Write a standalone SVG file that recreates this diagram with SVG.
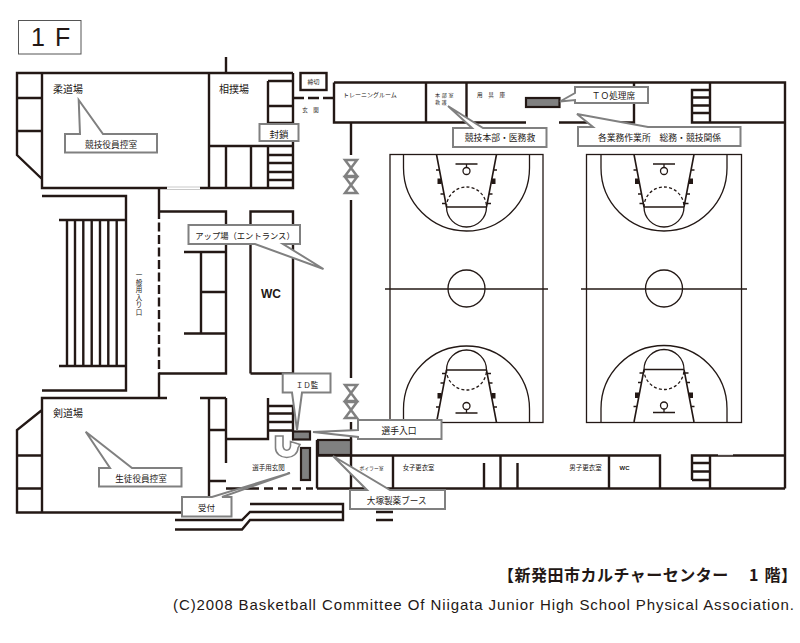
<svg xmlns="http://www.w3.org/2000/svg" xmlns:xlink="http://www.w3.org/1999/xlink" width="800" height="643" viewBox="0 0 800 643">
<style>
text{font-family:"Noto Sans CJK JP","Liberation Sans",sans-serif;fill:#231815}
.l{font-family:"Liberation Sans",sans-serif}
.w{fill:none;stroke:#231815;stroke-width:2.4}
.c{fill:none;stroke:#231815;stroke-width:1.3}
.b{fill:#fff;stroke:#808080;stroke-width:2}
.g{fill:#808080;stroke:#231815;stroke-width:2.2}
.m{text-anchor:middle}
</style>
<defs>
<g id="end">
<path class="c" d="M-63 0V13.5A63 63 0 0 0 63 13.5V0"/>
<path fill="none" stroke="#231815" stroke-width="1.6" d="M-30 0L-20 52.5M30 0L20 52.5"/>
<path class="c" d="M-20 52.5H20M-20 52.5A20 20 0 0 0 20 52.5"/>
<path class="c" stroke-dasharray="3 2.2" d="M-20 52.5A20 20 0 0 1 20 52.5"/>
<path class="c" d="M-11 9.5H11M0 9.5V13"/>
<circle class="c" cx="0" cy="16.5" r="3.5"/>
<path class="c" d="M-27 15.5H-30.500M27 15.5H30.500M-22.500 39.500H-26M22.500 39.500H26M-20.700 49H-24.500M20.700 49H24.500"/>
<rect x="-29" y="24" width="4" height="5.500" fill="#231815"/>
<rect x="25" y="24" width="4" height="5.500" fill="#231815"/>
</g>
<g id="hourglass">
<path fill="none" stroke="#808080" stroke-width="2.500" d="M-6 0H6L-6 16H6ZM-6 17H6L-6 33H6Z"/>
</g>
</defs>
<rect width="800" height="643" fill="#fff"/>

<g id="title"><rect x="18.500" y="20.500" width="62.500" height="33.500" fill="#fff" stroke="#555" stroke-width="1"/>
<text x="31" y="46" font-size="25" class="l">1</text><text x="55" y="46" font-size="25" class="l">F</text></g>

<g id="walls">
<path class="w" d="M226 57V73M293 73H17V155L42 179M42 73V188H167M200 188H293V73M17 98H42M17 131H42M209 73V188M209 146H293M226 146V188M251 146V188M268 146V188M268 155H293M268 163H293M268 172H293M268 180H293M268 81H293M268 106H293M268 81V123H293"/>
<path stroke="#bbb" stroke-width=".8" fill="none" d="M167 187H200M167 189.500H200"/>
<rect x="300.500" y="73" width="26" height="17" class="w"/>
<path class="w" stroke-dasharray="11 4" d="M293 98H334"/>
<path class="w" d="M334 82.500H785V488.500M334 82.500V122.500H526M559 122.500H634V82.500M426 82.500V122.500M466.500 82.500V122.500M785 122.500H692V90H710M710 82.500V122.500M692 97.500H710M692 105.500H710M692 113H710"/>
<path class="w" d="M351 122.500V155M351 200V378M351 422V488"/>
<path class="w" d="M159 188V210M159 375V398M42 196H126V390.500H42M59 220H126M59 366H126M67 220V366M75 220V366M83.300 220V366M91.700 220V366M100 220V366M108.300 220V366M116.700 220V366"/>
<path class="w" stroke-dasharray="9 3.500" d="M159 210V375"/>
<path class="w" d="M159 211.500H226V373.500H159M184 252H226M184 333.500H226M201 252V333.500M201 292H226M250.500 373.500V211.500H293V373.500H250.500"/>
<path class="w" d="M167 398H42V512.500H182M200 398H226M42 410L17 430V512.500H42M17 455.500H42M17 488.500H42M209 398V512.500M226 398V463M209 430H226M209 481H226M226 439H268V398M268 406H293M268 413.500H293M268 422H293M268 430.500H293M293 406V432"/>
<path class="w" d="M226 488.500H250M317 488.500H785M317 440V488.500M317 455.500H660V488.500M393 455.500V488.500M484 463V488.500M500.500 455.500V488.500M517.500 463V488.500M609 455.500V488.500M692 480V455.500H785M710 455.500V488.500M692 463H710M692 471.500H710M692 480H710"/>
<path class="w" stroke-dasharray="9 5" d="M250 488.500H313"/>
<path class="w" d="M250 504H343V520H250L242 529.500H175M343 512H250L242 520H175M376 512H393M376 520H393"/>
<path stroke="#fff" stroke-width="1" d="M718 454.700H733"/>
</g>

<g id="gates">
<use xlink:href="#hourglass" x="351" y="160"/>
<use xlink:href="#hourglass" x="351" y="385"/>
</g>

<g id="courts">
<g id="court-1" transform="translate(466.500 0)">
<rect class="c" x="-76.500" y="154.500" width="153" height="268"/>
<circle class="c" cx="0" cy="288.500" r="18.500"/>
<path class="c" d="M-81.500 289H81.500"/>
<use xlink:href="#end" y="154.500"/>
<use xlink:href="#end" transform="translate(0 422.500) scale(1 -1)"/>
</g>
<g id="court-2" transform="translate(664 0)">
<rect class="c" x="-77.500" y="154.500" width="155" height="268"/>
<circle class="c" cx="0" cy="288.500" r="18.500"/>
<path class="c" d="M-83 289H83"/>
<use xlink:href="#end" y="154.500"/>
<use xlink:href="#end" transform="translate(0 422) scale(1 -1)"/>
</g>
</g>

<g id="equipment">
<rect class="g" x="526" y="98" width="33.500" height="9"/>
<rect class="g" x="293" y="431.500" width="17" height="8"/>
<rect class="g" x="318" y="440" width="33" height="15"/>
<rect class="g" x="301" y="448" width="9" height="32"/>
<path fill="#fff" stroke="#808080" stroke-width="1.600" d="M275.500 436H283V446A3.800 5 0 0 0 290.500 446V441.500L300 444.500L298 448A11.200 9.500 0 0 1 275.500 448Z"/>
</g>

<g id="room-labels">
<text x="53" y="93" font-size="10">柔道場</text>
<text x="219" y="93" font-size="10">相撲場</text>
<text x="313.500" y="84" class="m" font-size="6">締切</text>
<text x="310.500" y="112" class="m" font-size="5.500" xml:space="preserve">玄　関</text>
<text x="343" y="97" font-size="6">トレーニングルーム</text>
<text x="435" y="96.500" font-size="5" letter-spacing="1.700">本部室</text>
<text x="435" y="104" font-size="5" letter-spacing="1.700">救護</text>
<text x="477" y="97" font-size="5.600" xml:space="preserve">用　具　庫</text>
<text font-size="6.500" class="m" x="139 139 139 139 139 139" y="277 284.500 292 299.500 307 314.500">一般用入り口</text>
<text x="271" y="298" class="m l" font-size="12" font-weight="bold">WC</text>
<text x="53" y="417" font-size="10">剣道場</text>
<text x="268.500" y="470" class="m" font-size="6.500">選手用玄関</text>
<text x="371.500" y="470" class="m" font-size="4.800">ボイラー室</text>
<text x="418.500" y="470" class="m" font-size="6.300">女子更衣室</text>
<text x="585.500" y="470" class="m" font-size="6.500">男子更衣室</text>
<text x="624.500" y="470" class="m l" font-size="6" font-weight="bold">WC</text>
</g>

<g id="callouts">
<g id="c-yakuin"><path class="b" d="M65 134H80L78.700 100L103 134H157V152.500H65Z"/><text x="111" y="148" class="m" font-size="8.700">競技役員控室</text></g>
<g id="c-fuusa"><rect class="b" x="259.500" y="124" width="39" height="17"/><text x="279" y="138" class="m" font-size="9.500">封鎖</text></g>
<g id="c-to"><path class="b" d="M575 87H648V103H575V100L560 101.500L575 93Z"/><text x="613.500" y="99" class="m" font-size="8.700">ＴＯ処理席</text></g>
<g id="c-honbu"><path class="b" d="M453 128H472L448 106L483 128H546.500V147H453Z"/><text x="500" y="141" class="m" font-size="8.800">競技本部・医務救</text></g>
<g id="c-gyomu"><path class="b" d="M578 127H593L577 114L648 127H740.500V146H578Z"/><text x="659.500" y="140.500" class="m" font-size="8.800" xml:space="preserve">各業務作業所　総務・競技関係</text></g>
<g id="c-up"><path class="b" d="M188.500 225H300V244H283L323.500 269L255 244H188.500Z"/><text x="245" y="239" class="m" font-size="8.300">アップ場（エントランス）</text></g>
<g id="c-id"><path class="b" d="M282.700 373.500H330.500V392.500H302L297 430L292 392.500H282.700Z"/><text x="307" y="387.500" class="m" font-size="7.500">ＩＤ監</text></g>
<g id="c-entry"><path class="b" d="M358 420H441.500V439H358V437L313 432L358 430Z"/><text x="399" y="433.500" class="m" font-size="8.800">選手入口</text></g>
<g id="c-seito"><path class="b" d="M99 468H110L85.700 431.700L132 468H181.500V486.500H99Z"/><text x="141" y="482" class="m" font-size="8.600">生徒役員控室</text></g>
<g id="c-uketsuke"><path class="b" d="M182 497H212L290 473L222 497H231.500V516.500H182Z"/><text x="206.500" y="511" class="m" font-size="8.500">受付</text></g>
<g id="c-otsuka"><path class="b" d="M350 490H367L333 456L390 490H445V509H350Z"/><text x="396.700" y="503.500" class="m" font-size="8.600">大塚製薬ブース</text></g>
</g>

<g id="footer">
<text y="581" font-size="16" font-weight="bold" letter-spacing=".5"><tspan x="498">【新発田市カルチャーセンター</tspan><tspan x="749">1</tspan><tspan x="764.500">階】</tspan></text>
<text x="173" y="609.500" font-size="15" textLength="621" class="l">(C)2008 Basketball Committee Of Niigata Junior High School Physical Association.</text>
</g>
</svg>
